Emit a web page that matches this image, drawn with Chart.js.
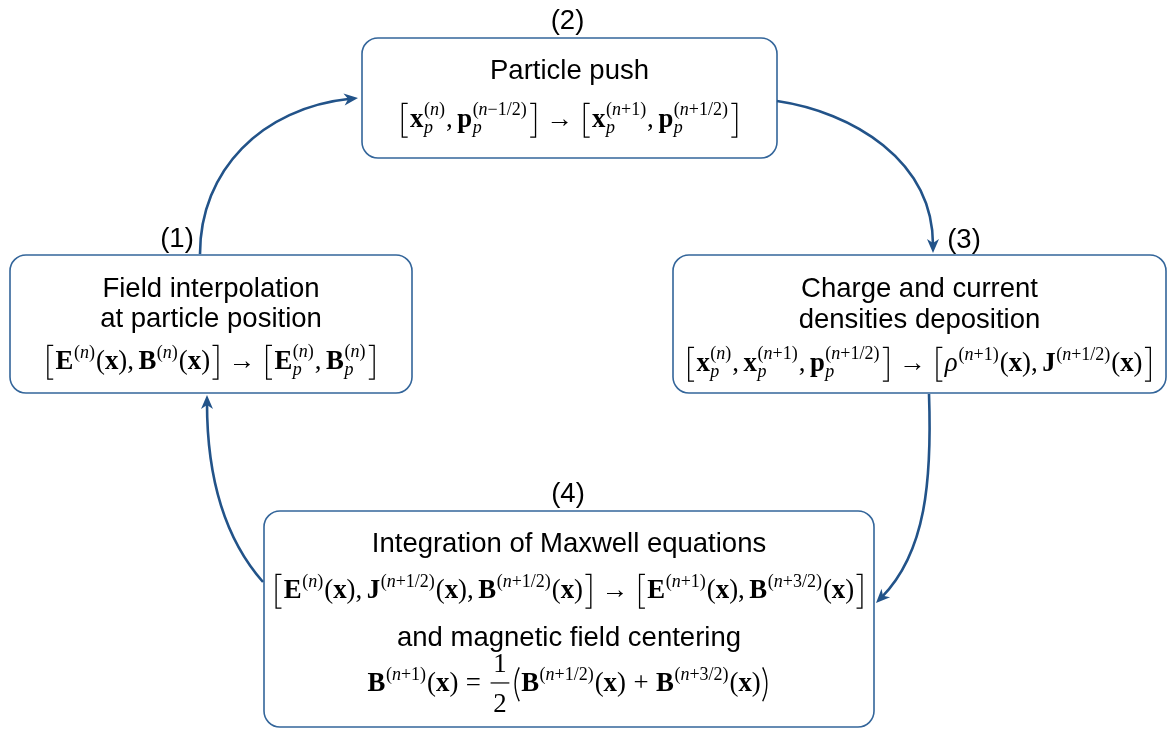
<!DOCTYPE html>
<html><head><meta charset="utf-8">
<script src="https://cdn.jsdelivr.net/npm/chart.js@4.4.1/dist/chart.umd.min.js"></script>
<style>html,body{margin:0;padding:0;background:#fff}#wrap{width:1168px;height:731px;position:relative}</style>
</head><body><div id="wrap"><canvas id="c"></canvas></div>
<script>
// ---------------- data ----------------
const stepNumbers = ['(1)', '(2)', '(3)', '(4)'];
const stepTitles = [
  ['Field interpolation', 'at particle position'],
  ['Particle push'],
  ['Charge and current', 'densities deposition'],
  ['Integration of Maxwell equations', 'and magnetic field centering']
];
const formula1 = ['[', 'E^(n)', '(x)', ',', 'B^(n)', '(x)', ']', '→', '[', 'E_p^(n)', ',', 'B_p^(n)', ']'];
const formula2 = ['[', 'x_p^(n)', ',', 'p_p^(n−1/2)', ']', '→', '[', 'x_p^(n+1)', ',', 'p_p^(n+1/2)', ']'];
const formula3 = ['[', 'x_p^(n)', ',', 'x_p^(n+1)', ',', 'p_p^(n+1/2)', ']', '→', '[', 'ρ^(n+1)', '(x)', ',', 'J^(n+1/2)', '(x)', ']'];
const formula4a = ['[', 'E^(n)', '(x)', ',', 'J^(n+1/2)', '(x)', ',', 'B^(n+1/2)', '(x)', ']', '→', '[', 'E^(n+1)', '(x)', ',', 'B^(n+3/2)', '(x)', ']'];
const formula4b = ['B^(n+1)', '(x)', '=', 'frac:1:2', 'L(', 'B^(n+1/2)', '(x)', '+', 'B^(n+3/2)', '(x)', 'R)'];
const stepFormulas = [[formula1], [formula2], [formula3], [formula4a, formula4b]];
// node centres (diagram units)
const nodeX = [211, 569.5, 919.5, 569];
const nodeY = [324, 98, 324, 619];

// ---------------- layout / style ----------------
const boxLayout = [
  {w: 402, h: 138, lab: [-34, -8], lines: [['t', 0, 42], ['t', 1, 72], ['m', 0, 114]]},
  {w: 415, h: 120, lab: [-2, -9],  lines: [['t', 0, 41], ['m', 0, 89]]},
  {w: 493, h: 138, lab: [44.5, -7], lines: [['t', 0, 42], ['t', 1, 73], ['m', 0, 116]]},
  {w: 610, h: 216, lab: [-1, -9],  lines: [['t', 0, 41], ['m', 0, 87], ['t', 1, 135], ['m', 1, 180]]}
];
const arrowCurves = [
  [[200, 254], [200, 170], [262, 108], [358, 98]],
  [[777, 101], [852, 112], [933, 160], [933, 253]],
  [[929, 394], [932, 480], [926, 552], [876, 603]],
  [[263, 582], [226, 540], [207, 480], [207, 395]]
];
const BOX_COLOR = '#33659a', ARROW_COLOR = '#225389';
const TITLE_FONT = '27.5px "Liberation Sans", Arial, sans-serif';
const MATH_SIZE = 26.8;

const fBold = s => `bold ${s}px "Liberation Serif", "Times New Roman", serif`;
const fIt = s => `italic ${s}px "Liberation Serif", "Times New Roman", serif`;
const fReg = s => `${s}px "Liberation Serif", "Times New Roman", serif`;

function layoutMath(ctx, tokens, S) {
  const s = Math.round(S * 0.69);
  const ops = [];
  let x = 0;
  const meas = (font, t) => { ctx.font = font; return ctx.measureText(t).width; };
  const T = (text, font, dy = 0) => { const w = meas(font, text); ops.push({k: 't', text, font, x, dy}); x += w; return w; };
  const script = (str, x0, dy) => {
    let xx = x0;
    for (const ch of str) {
      const font = /[a-z]/.test(ch) ? fIt(s) : fReg(s);
      const w = meas(font, ch);
      ops.push({k: 't', text: ch, font, x: xx, dy});
      xx += w;
    }
    return xx - x0;
  };
  for (const tok of tokens) {
    if (tok === '[' || tok === ']') { ops.push({k: 'br', dir: tok, x}); x += S * 0.42; }
    else if (tok === 'L(' || tok === 'R)') { ops.push({k: 'par', dir: tok[1], x}); x += S * 0.36; }
    else if (tok === '→' || tok === '=' || tok === '+') { x += S * 0.28; T(tok, fReg(S)); x += S * 0.28; }
    else if (tok === ',') { T(',', fReg(S)); x += S * 0.17; }
    else if (tok === '(x)') { T('(', fReg(S)); T('x', fBold(S)); T(')', fReg(S)); }
    else if (tok.startsWith('frac')) {
      const parts = tok.split(':');
      const f = fReg(S);
      const wa = meas(f, parts[1]), wb = meas(f, parts[2]);
      const w = Math.max(wa, wb) + S * 0.2;
      x += S * 0.08;
      ops.push({k: 't', text: parts[1], font: f, x: x + (w - wa) / 2, dy: -S * 0.7});
      ops.push({k: 't', text: parts[2], font: f, x: x + (w - wb) / 2, dy: S * 0.8});
      ops.push({k: 'bar', x, w, dy: -S * 0.3});
      x += w + S * 0.08;
    } else {
      const m = tok.match(/^(.)(?:_([^\^]+))?(?:\^(.+))?$/);
      const base = m[1], sub = m[2], sup = m[3];
      const greek = /[α-ω]/.test(base);
      T(base, greek ? fIt(S) : fBold(S));
      const x0 = x + (greek ? 1 : 0.5);
      let w1 = 0, w2 = 0;
      if (sup) w1 = script(sup, x0, sub ? -S * 0.46 : -S * 0.42);
      if (sub) w2 = script(sub, x0, S * 0.24);
      x = x0 + Math.max(w1, w2) + 1;
    }
  }
  return {ops, width: x};
}

function drawMath(ctx, tokens, cx, base, S) {
  const L = layoutMath(ctx, tokens, S);
  const x0 = cx - L.width / 2;
  ctx.fillStyle = '#000'; ctx.strokeStyle = '#000';
  ctx.textAlign = 'left'; ctx.textBaseline = 'alphabetic';
  const top = base - S * 0.88, bot = base + S * 0.38;
  for (const op of L.ops) {
    if (op.k === 't') { ctx.font = op.font; ctx.fillText(op.text, x0 + op.x, base + op.dy); }
    else if (op.k === 'bar') { ctx.fillRect(x0 + op.x, base + op.dy - 0.6, op.w, 1.2); }
    else if (op.k === 'br') {
      const ser = S * 0.2;
      ctx.lineWidth = 1.3; ctx.beginPath();
      if (op.dir === '[') {
        const vx = x0 + op.x + S * 0.13;
        ctx.moveTo(vx + ser, top); ctx.lineTo(vx, top); ctx.lineTo(vx, bot); ctx.lineTo(vx + ser, bot);
      } else {
        const vx = x0 + op.x + S * 0.29;
        ctx.moveTo(vx - ser, top); ctx.lineTo(vx, top); ctx.lineTo(vx, bot); ctx.lineTo(vx - ser, bot);
      }
      ctx.stroke();
    } else if (op.k === 'par') {
      const w = S * 0.36, mid = (top + bot) / 2;
      ctx.lineWidth = 1.4; ctx.beginPath();
      if (op.dir === '(') {
        ctx.moveTo(x0 + op.x + w * 0.8, top);
        ctx.quadraticCurveTo(x0 + op.x - w * 0.05, mid, x0 + op.x + w * 0.8, bot);
      } else {
        ctx.moveTo(x0 + op.x + w * 0.2, top);
        ctx.quadraticCurveTo(x0 + op.x + w * 1.05, mid, x0 + op.x + w * 0.2, bot);
      }
      ctx.stroke();
    }
  }
}

const diagramPlugin = {
  id: 'diagram',
  afterDatasetsDraw(chart) {
    const ctx = chart.ctx, xs = chart.scales.x, ys = chart.scales.y;
    const px = v => xs.getPixelForValue(v), py = v => ys.getPixelForValue(v);
    ctx.save();
    stepNumbers.forEach((num, i) => {
      const L = boxLayout[i];
      const cx = px(nodeX[i]);
      const left = px(nodeX[i] - L.w / 2), right = px(nodeX[i] + L.w / 2);
      const top = py(nodeY[i] - L.h / 2), bottom = py(nodeY[i] + L.h / 2);
      ctx.beginPath();
      ctx.roundRect(left, top, right - left, bottom - top, 16);
      ctx.fillStyle = '#fff'; ctx.fill();
      ctx.lineWidth = 1.6; ctx.strokeStyle = BOX_COLOR; ctx.stroke();
      ctx.fillStyle = '#000'; ctx.font = TITLE_FONT; ctx.textAlign = 'center'; ctx.textBaseline = 'alphabetic';
      ctx.fillText(num, px(nodeX[i] + L.lab[0]), py(nodeY[i] - L.h / 2 + L.lab[1]));
      for (const [kind, idx, off] of L.lines) {
        const y = py(nodeY[i] - L.h / 2 + off);
        if (kind === 't') {
          ctx.font = TITLE_FONT; ctx.textAlign = 'center'; ctx.fillStyle = '#000';
          ctx.fillText(stepTitles[i][idx], cx, y);
        } else {
          drawMath(ctx, stepFormulas[i][idx], cx, y, MATH_SIZE);
        }
      }
    });
    for (const c of arrowCurves) {
      const p = c.map(q => [px(q[0]), py(q[1])]);
      const dx = p[3][0] - p[2][0], dy = p[3][1] - p[2][1];
      const len = Math.hypot(dx, dy), ux = dx / len, uy = dy / len;
      const nx = -uy, ny = ux;
      const tip = p[3];
      const endX = tip[0] - ux * 8, endY = tip[1] - uy * 8;
      ctx.beginPath();
      ctx.moveTo(p[0][0], p[0][1]);
      ctx.bezierCurveTo(p[1][0], p[1][1], p[2][0], p[2][1], endX, endY);
      ctx.lineWidth = 2.6; ctx.strokeStyle = ARROW_COLOR; ctx.stroke();
      ctx.beginPath();
      ctx.moveTo(tip[0], tip[1]);
      ctx.lineTo(tip[0] - ux * 14 + nx * 6, tip[1] - uy * 14 + ny * 6);
      ctx.lineTo(tip[0] - ux * 10, tip[1] - uy * 10);
      ctx.lineTo(tip[0] - ux * 14 - nx * 6, tip[1] - uy * 14 - ny * 6);
      ctx.closePath();
      ctx.fillStyle = ARROW_COLOR; ctx.fill();
    }
    ctx.restore();
  }
};

new Chart(document.getElementById('c'), {
  type: 'scatter',
  data: {
    datasets: [{
      label: 'steps',
      data: nodeX.map((x, i) => ({x, y: nodeY[i]})),
      pointRadius: 0, pointHoverRadius: 0
    }]
  },
  options: {
    responsive: true, maintainAspectRatio: false, animation: false,
    layout: {padding: 0},
    events: [],
    plugins: {legend: {display: false}, tooltip: {enabled: false}},
    scales: {
      x: {type: 'linear', display: false, min: 0, max: 1168},
      y: {type: 'linear', display: false, min: 0, max: 731, reverse: true}
    }
  },
  plugins: [diagramPlugin]
});
</script>
</body></html>
